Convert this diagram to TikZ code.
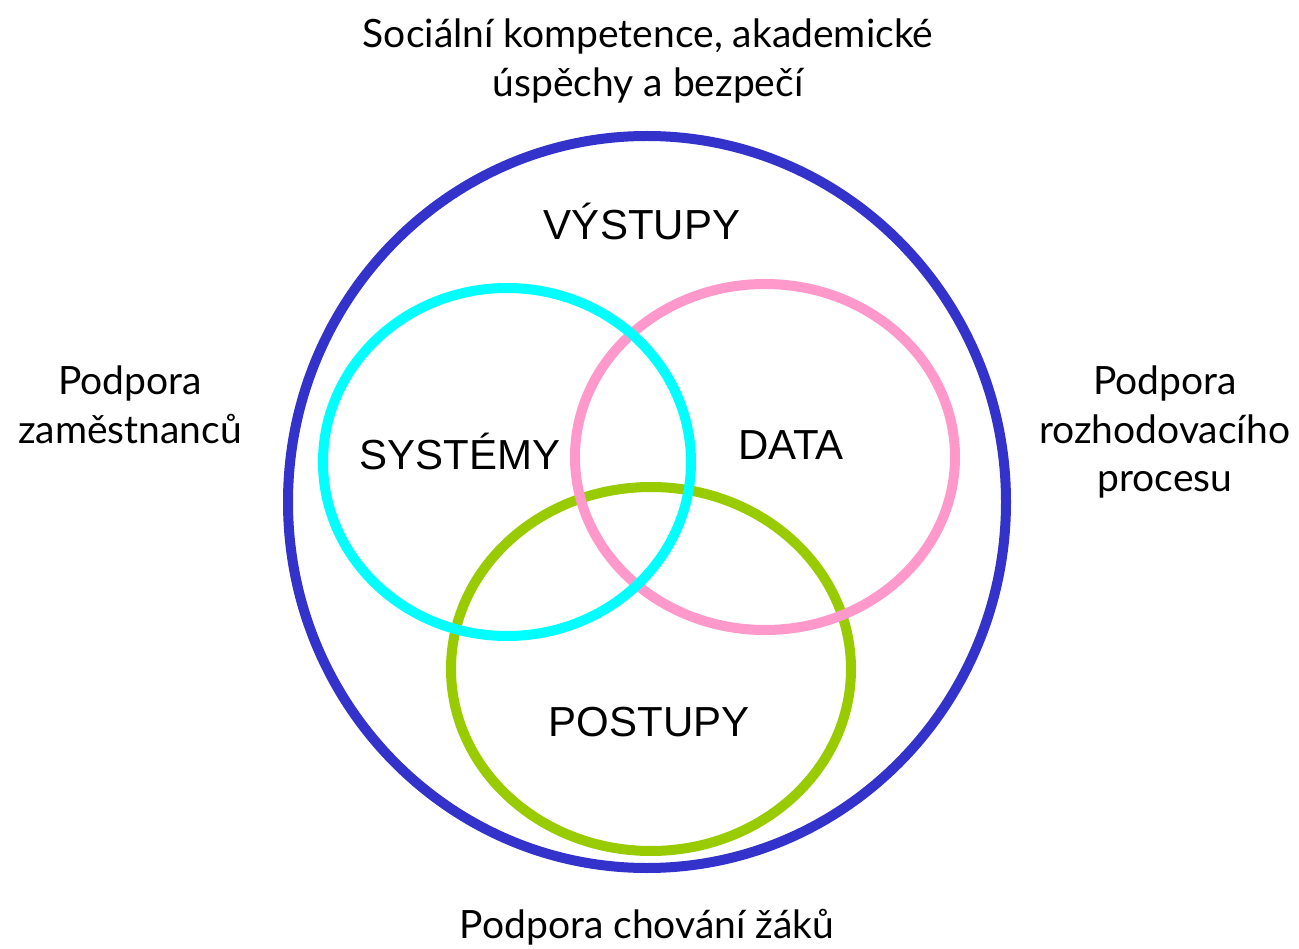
\documentclass[tikz,border=0pt]{standalone}
\usepackage{fontspec}
\setmainfont{Lato}
\newfontfamily\innerfont{Liberation Sans}
\usetikzlibrary{shapes.geometric}
\definecolor{ringblue}{HTML}{3333CC}
\definecolor{ringcyan}{HTML}{00FFFF}
\definecolor{ringpink}{HTML}{FF99CC}
\definecolor{ringgreen}{HTML}{99CC00}
\begin{document}
\begin{tikzpicture}[x=1pt,y=-1pt,
  ring/.style={ellipse, draw, line width=10pt, inner sep=0pt, outer sep=0pt},
  outerlabel/.style={font=\fontsize{39}{49}\selectfont, align=center, anchor=base, inner sep=0pt},
  innerlabel/.style={font=\innerfont\fontsize{42}{50}\selectfont, anchor=base, inner sep=0pt}]
\useasboundingbox[fill=white] (0,0) rectangle (1299,949);
\node[ring, draw=ringblue, minimum width=718pt, minimum height=732pt] (outcomes) at (647,502) {};
\node[ring, draw=ringgreen, minimum width=400pt, minimum height=364pt] (practices) at (651,669) {};
\node[ring, draw=ringpink, minimum width=380pt, minimum height=346pt] (data) at (765,457) {};
\node[ring, draw=ringcyan, minimum width=368pt, minimum height=348pt] (systems) at (507,462) {};

\node[innerlabel] (vystupy) at (642,240) {VÝSTUPY};
\node[innerlabel] (systemy) at (460,470) {SYSTÉMY};
\node[innerlabel] (datalbl) at (791,460) {DATA};
\node[innerlabel] (postupy) at (649,736) {POSTUPY};

% anchor=base of a multi-line node is the baseline of its last line
\node[outerlabel] (top) at (648,97) {Sociální kompetence, akademické\\úspěchy a bezpečí};
\node[outerlabel] (left) at (130,443) {Podpora\\zaměstnanců};
\node[outerlabel] (right) at (1165,492) {Podpora\\rozhodovacího\\procesu};
\node[outerlabel] (bottom) at (647,938) {Podpora chování žáků};
\end{tikzpicture}
\end{document}
